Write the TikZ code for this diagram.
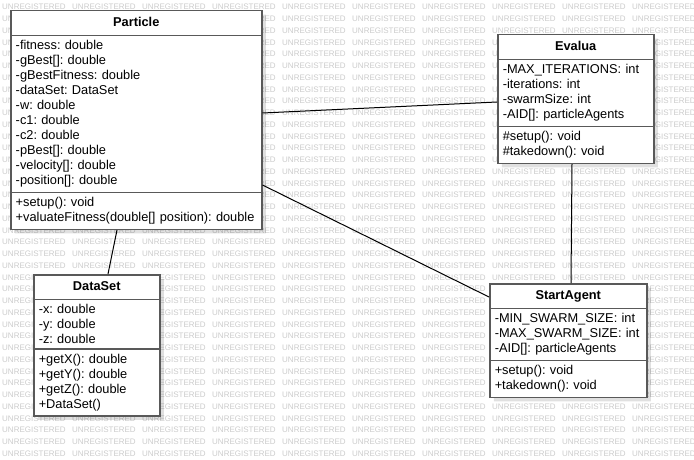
\documentclass[tikz,border=0pt]{standalone}
\usepackage{fontspec}
\setmainfont{Liberation Sans}
\usetikzlibrary{shapes.multipart, shadows}

\begin{document}
\begin{tikzpicture}[x=1pt, y=-1pt,
umlclass/.style={rectangle split, rectangle split parts=3, draw=black!65, line width=1.5pt, fill=white, text width=#1, inner xsep=5pt, inner ysep=4.2pt, align=left, anchor=north west, font=\fontsize{12.8}{15}\selectfont\frenchspacing, text height=10.5pt, text depth=4.5pt, drop shadow={shadow xshift=4pt, shadow yshift=-4pt, fill=black, opacity=0.12}},
assoc/.style={draw=black, line width=1pt},
watermark/.style={anchor=west, inner sep=0pt, text=black!20, font=\fontsize{8}{8}\selectfont}]

\useasboundingbox (0,0) rectangle (694,460);
\clip (0,0) rectangle (694,460);
\fill[white] (0,0) rectangle (694,460);

% Watermark

\foreach \i in {0,...,9}
  \foreach \j in {0,...,38}
    \node[watermark] (wm-\i-\j) at (2+70*\i, 7+11.75*\j) {UNREGISTERED};

% Classes

\node[umlclass=241pt] (particle) at (10,10)
{\makebox[\linewidth]{\textbf{Particle}}%
\nodepart{two}	-fitness: double\\ -gBest[]: double\\ -gBestFitness: double\\ -dataSet: DataSet\\ -w: double\\ -c1: double\\ -c2: double\\ -pBest[]: double\\ -velocity[]: double\\ -position[]: double
\nodepart{three}	+setup(): void\\ +valuateFitness(double[] position): double};

\node[umlclass=146pt] (evalua) at (497,34)
{\makebox[\linewidth]{\textbf{Evalua}}%
\nodepart{two}	-MAX\_ITERATIONS: int\\ -iterations: int\\ -swarmSize: int\\ -AID[]: particleAgents
\nodepart{three}	\#setup(): void\\ \#takedown(): void};

\node[umlclass=116pt] (dataset) at (33,274)
{\makebox[\linewidth]{\textbf{DataSet}}%
\nodepart{two}	-x: double\\ -y: double\\ -z: double
\nodepart{three}	+getX(): double\\ +getY(): double\\ +getZ(): double\\ +DataSet()};

\node[umlclass=147pt] (startagent) at (489,283)
{\makebox[\linewidth]{\textbf{StartAgent}}%
\nodepart{two}	-MIN\_SWARM\_SIZE: int\\ -MAX\_SWARM\_SIZE: int\\ -AID[]: particleAgents
\nodepart{three}	+setup(): void\\ +takedown(): void};

% Associations

\draw[assoc] ([xshift=107pt]particle.south west) -- ([xshift=75pt]dataset.north west);

\draw[assoc] ([yshift=-103pt]particle.north east) -- ([yshift=-68pt]evalua.north west);

\draw[assoc] ([yshift=-175pt]particle.north east) -- ([yshift=-14pt]startagent.north west);

\draw[assoc] ([xshift=75pt]evalua.south west) -- ([xshift=82pt]startagent.north west);

\end{tikzpicture}
\end{document}
